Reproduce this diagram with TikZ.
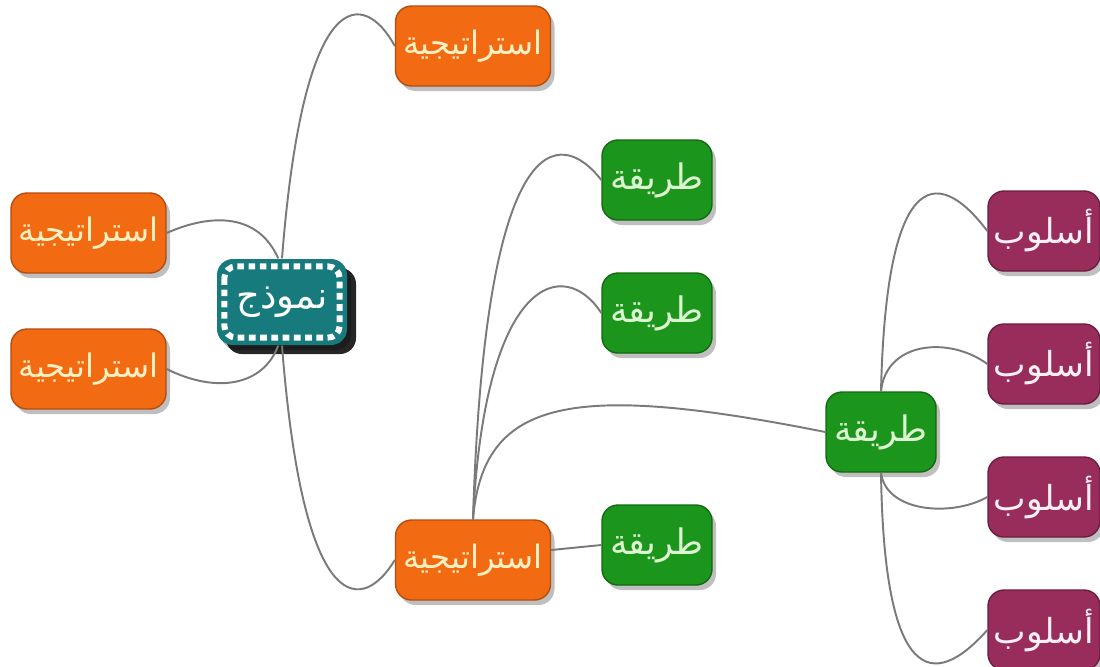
\documentclass[tikz,border=0pt]{standalone}
\usepackage{fontspec}
\newfontfamily\arabicfont[Script=Arabic]{DejaVu Sans}
\TeXXeTstate=1
\usetikzlibrary{shadows}
\definecolor{stratfill}{HTML}{F26A12}
\definecolor{stratline}{HTML}{B24E12}
\definecolor{stratText}{HTML}{FFF1C2}
\definecolor{methfill}{HTML}{1C951C}
\definecolor{methline}{HTML}{116A11}
\definecolor{methText}{HTML}{DDF6D2}
\definecolor{stylefill}{HTML}{982D5C}
\definecolor{styleline}{HTML}{6C1D40}
\definecolor{styleText}{HTML}{FFF0F6}
\definecolor{modelfill}{HTML}{177A7C}
\definecolor{linkgray}{HTML}{7A7A7A}
\newcommand{\artext}[1]{\beginR #1\endR}
\tikzset{
    box/.style={rounded corners=0.16cm, minimum height=0.8cm, inner sep=0pt,
        drop shadow={shadow xshift=0.04cm, shadow yshift=-0.05cm, opacity=0.25, fill=black}},
    strat/.style={box, fill=stratfill, draw=stratline, text=stratText, minimum width=1.55cm,
        font=\arabicfont\fontsize{9.2}{11}\selectfont},
    meth/.style={box, fill=methfill, draw=methline, text=methText, minimum width=1.1cm,
        font=\arabicfont\fontsize{10}{12}\selectfont},
    manner/.style={box, fill=stylefill, draw=styleline, text=styleText, minimum width=1.12cm,
        font=\arabicfont\fontsize{9.8}{12}\selectfont},
    link/.style={draw=linkgray, line width=0.55pt},
}
\begin{document}
\begin{tikzpicture}
    \fill [white] (0, 0) rectangle (11, 6.66);
    \useasboundingbox (0, 0) rectangle (11, 6.66);
    \node [box, fill=modelfill, draw=none, text=white, minimum width=1.3cm, minimum height=0.86cm,
        font=\arabicfont\fontsize{10.5}{12}\selectfont,
        drop shadow={shadow xshift=0.09cm, shadow yshift=-0.09cm, opacity=0.85, fill=black}]
        (model) at (2.82, 3.64) {\artext{نموذج}};
    \draw [white, line width=1.7pt, dash pattern=on 1.9pt off 1.3pt, rounded corners=0.12cm]
        ([xshift=0.08cm, yshift=-0.08cm]model.north west) rectangle ([xshift=-0.08cm, yshift=0.08cm]model.south east);
    \node [strat] (stratT) at (4.73, 6.20) {\artext{استراتيجية}};
    \node [strat] (stratL) at (0.885, 4.33) {\artext{استراتيجية}};
    \node [strat] (stratM) at (0.885, 2.97) {\artext{استراتيجية}};
    \node [strat] (stratB) at (4.73, 1.06) {\artext{استراتيجية}};
    \node [meth] (methA) at (6.57, 4.86) {\artext{طريقة}};
    \node [meth] (methB) at (6.57, 3.53) {\artext{طريقة}};
    \node [meth] (methC) at (6.57, 1.21) {\artext{طريقة}};
    \node [meth] (methD) at (8.81, 2.34) {\artext{طريقة}};
    \node [manner] (styleA) at (10.44, 4.35) {\artext{أسلوب}};
    \node [manner] (styleB) at (10.44, 3.02) {\artext{أسلوب}};
    \node [manner] (styleC) at (10.44, 1.69) {\artext{أسلوب}};
    \node [manner] (styleD) at (10.44, 0.36) {\artext{أسلوب}};
    \draw [link] (model.north) .. controls +(0.22, 2.8) and +(-0.3, 0.55) .. (stratT.west);
    \draw [link] (stratL.east) .. controls +(0.45, 0.2) and +(-0.2, 0.45) .. (model.95);
    \draw [link] (stratM.east) .. controls +(0.5, -0.25) and +(-0.15, -0.4) .. (model.265);
    \draw [link] (model.south) .. controls +(0.22, -2.82) and +(-0.3, -0.5) .. (stratB.west);
    \draw [link] (stratB.north) .. controls +(0.12, 3.94) and +(-0.42, 0.54) .. (methA.west);
    \draw [link] (stratB.north) .. controls +(0.12, 2.44) and +(-0.37, 0.57) .. (methB.west);
    \draw [link] (stratB.north) .. controls +(0.1, 1.2) and +(-2.56, 0.51) .. (methD.west);
    \draw [link] ([yshift=0.1cm]stratB.east) -- (methC.west);
    \draw [link] (methD.north) .. controls +(0.05, 2.16) and +(-0.53, 0.7) .. (styleA.west);
    \draw [link] (methD.north) .. controls +(0.05, 0.5) and +(-0.38, 0.28) .. (styleB.west);
    \draw [link] (methD.south) .. controls +(0.05, -0.4) and +(-0.35, -0.2) .. (styleC.west);
    \draw [link] (methD.south) .. controls +(0.03, -2.1) and +(-0.55, -0.62) .. (styleD.west);
\end{tikzpicture}
\end{document}
